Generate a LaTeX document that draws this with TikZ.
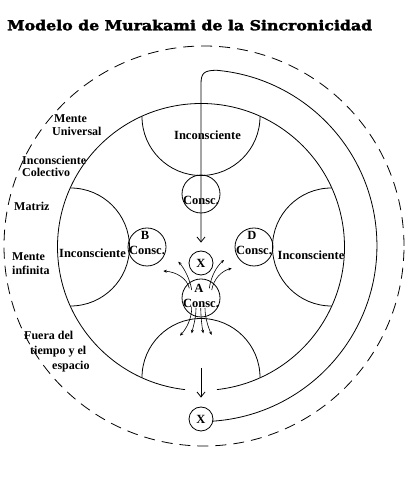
\documentclass[tikz,border=0pt]{standalone}
\usepackage{graphicx}
\usepackage{fontspec}
\setmainfont{Liberation Serif}
\newfontfamily\titlefont{DejaVu Serif}[BoldFeatures={FakeBold=2}]
\usetikzlibrary{arrows.meta}
\begin{document}
\begin{tikzpicture}[x=1pt,y=1pt,
  ln/.style={line width=0.8pt},
  ring/.style={draw,circle,line width=0.8pt,minimum size=38pt,inner sep=0pt},
  xcirc/.style={draw,circle,line width=0.8pt,minimum size=24pt,inner sep=0pt,font=\fontsize{12.5}{13}\selectfont\bfseries},
  lbl/.style={font=\fontsize{12.5}{13}\selectfont\bfseries,inner sep=0pt},
  leg/.style={font=\fontsize{12}{13}\selectfont\bfseries,inner sep=0pt,align=left,anchor=north west},
  bigarr/.style={-{Straight Barb[length=5pt,width=8pt]},line width=0.8pt},
  smallarr/.style={-{Stealth[length=3.5pt,width=3pt]},line width=0.6pt}]
\useasboundingbox (0,0) rectangle (405,494);
\coordinate (O) at (201,247);
% title
\node[anchor=south west,inner sep=0pt] (title) at (7,463.3)
  {\resizebox{365pt}{10.5pt}{\titlefont\bfseries Modelo de Murakami de la Sincronicidad}};
% dashed outer circle
\draw[line width=0.8pt,dash pattern=on 11pt off 7pt] (204,248) circle[radius=200];
% main circle with gap at bottom
\draw[ln] (O) ++(-83.6:143.5) arc[start angle=-83.6,end angle=263.6,radius=143.5];
% Inconsciente semicircles
\draw[ln] (142,377.5) arc[start angle=180,end angle=360,radius=59];
\draw[ln] (70.5,306) arc[start angle=90,end angle=-90,radius=59];
\draw[ln] (331.5,306) arc[start angle=90,end angle=270,radius=59];
\draw[ln] (142,116.5) arc[start angle=180,end angle=0,radius=59];
\node[lbl] (it) at (207.5,359) {Inconsciente};
\node[lbl] (il) at (92.5,241) {Inconsciente};
\node[lbl] (ir) at (311,239) {Inconsciente};
% Consc circles
\node[ring] (ct) at (201,300) {};
\node[ring] (cb) at (147,247) {};
\node[ring] (cd) at (254,247) {};
\node[ring] (ca) at (201,196) {};
\node[xcirc] (xm) at (201,231) {X};
\node[xcirc] (xb) at (201,75) {X};
% outer loop
\draw[ln,-{Straight Barb[length=5pt,width=8pt]},shorten >=8pt]
  (xb.-10) arc[start angle=-86,end angle=85,radius=176]
  .. controls (204,423.5) and (201,421) .. (201,410) -- (xm);
\node[lbl] (tct) at (201,294) {Consc.};
\node[lbl] (tb) at (145,259) {B};
\node[lbl] (tcb) at (147,244) {Consc.};
\node[lbl] (td) at (252,259) {D};
\node[lbl] (tcd) at (254,244) {Consc.};
\node[lbl] (ta) at (199,206) {A};
\node[lbl] (tca) at (201,191) {Consc.};
% bottom down arrow
\coordinate (d0) at (201,126);
\draw[bigarr,shorten >=9pt] (d0) -- (xb);
% small arrows from A
\coordinate (u1s) at (189.3,205.7); \coordinate (u1e) at (163.3,223);
\coordinate (u2s) at (191.7,204);   \coordinate (u2e) at (178.3,232.3);
\coordinate (u3s) at (209.3,205.7); \coordinate (u3e) at (224,234);
\coordinate (u4s) at (211.7,204);   \coordinate (u4e) at (231.7,225.7);
\draw[smallarr] (u1s) .. controls (187,216) and (176,222) .. (u1e);
\draw[smallarr] (u2s) .. controls (190,215) and (184,226) .. (u2e);
\draw[smallarr] (u3s) .. controls (211,218) and (217,228) .. (u3e);
\draw[smallarr] (u4s) .. controls (214,216) and (222,223) .. (u4e);
\coordinate (b1s) at (191.7,187.3); \coordinate (b1e) at (180,158.3);
\coordinate (b2s) at (196,186);     \coordinate (b2e) at (191.7,160.7);
\coordinate (b3s) at (200.7,186);   \coordinate (b3e) at (203.3,160.7);
\coordinate (b4s) at (205,186);     \coordinate (b4e) at (211.7,159);
\draw[smallarr] (b1s) .. controls (192,175) and (186,165) .. (b1e);
\draw[smallarr] (b2s) .. controls (196,175) and (193,167) .. (b2e);
\draw[smallarr] (b3s) .. controls (201,175) and (202,167) .. (b3e);
\draw[smallarr] (b4s) .. controls (205,175) and (209,165) .. (b4e);
% legend
\node[leg] (l1) at (52,379.5) {\hspace*{2pt}Mente\\Universal};
\node[leg,font=\fontsize{12}{12}\selectfont\bfseries] (l2) at (22,338.5) {Inconsciente\\Colectivo};
\node[leg] (l3) at (14,292.5) {Matriz};
\node[leg,font=\fontsize{12}{14}\selectfont\bfseries] (l4) at (12,241.5) {Mente\\infinita};
\node[leg,font=\fontsize{12}{15}\selectfont\bfseries] (l5) at (24,163.5) {Fuera del\\\hspace*{6pt}tiempo y el\\\hspace*{28pt}espacio};
\end{tikzpicture}
\end{document}
